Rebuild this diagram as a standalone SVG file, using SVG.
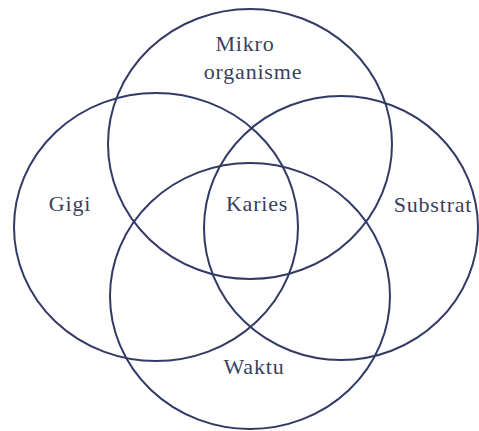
<svg xmlns="http://www.w3.org/2000/svg" width="479" height="431" viewBox="0 0 479 431">
<style>
.c{fill:none;stroke:#323a66;stroke-width:2}
.t{font-family:"Liberation Serif",serif;font-size:22px;fill:#3a3f5c;text-anchor:middle;letter-spacing:0.8px}
</style>
<rect width="479" height="431" fill="#fff"/>
<g id="connectors"></g>
<g id="mikro"><ellipse class="c" cx="250" cy="144" rx="142" ry="135"/><text class="t" x="245" y="51">Mikro</text><text class="t" x="253" y="79">organisme</text></g>
<g id="gigi"><ellipse class="c" cx="156" cy="227" rx="142" ry="134"/><text class="t" x="70" y="211">Gigi</text></g>
<g id="substrat"><ellipse class="c" cx="341" cy="228" rx="137" ry="132"/><text class="t" x="433" y="212">Substrat</text></g>
<g id="waktu"><ellipse class="c" cx="250" cy="296" rx="140" ry="133"/><text class="t" x="254" y="374">Waktu</text></g>
<g id="karies"><text class="t" x="257" y="211">Karies</text></g>
</svg>
